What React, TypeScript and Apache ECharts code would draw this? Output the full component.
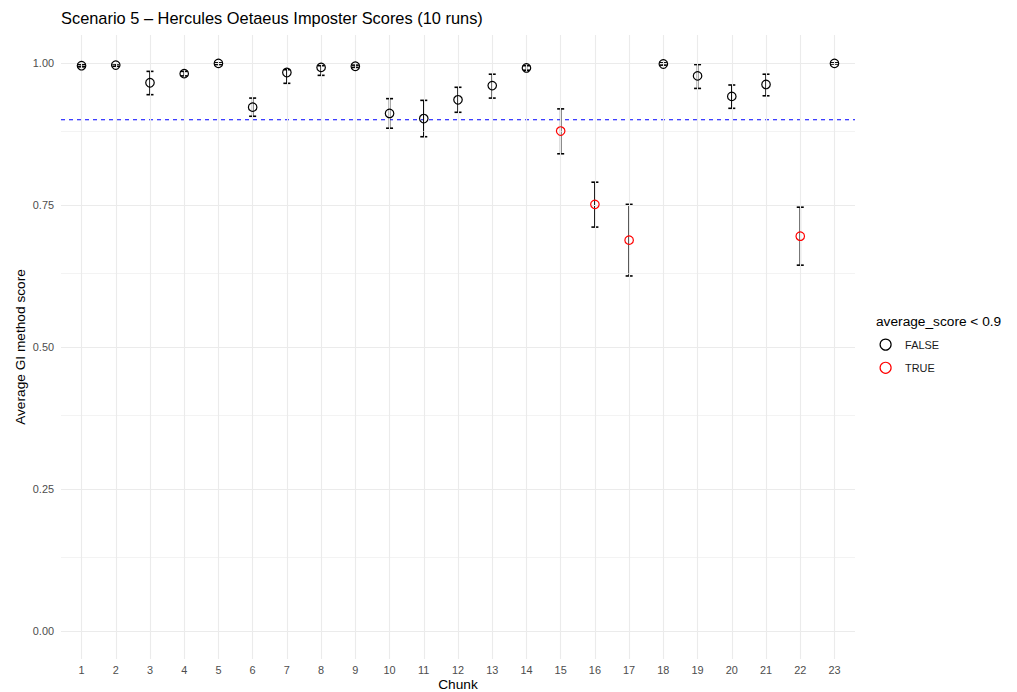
import React, { useEffect, useRef } from "react";
import * as echarts from "echarts";

const chunks = [1, 2, 3, 4, 5, 6, 7, 8, 9, 10, 11, 12, 13, 14, 15, 16, 17, 18, 19, 20, 21, 22, 23];
const avgScore = [0.995, 0.996, 0.965, 0.981, 0.999, 0.922, 0.983, 0.992, 0.994, 0.911, 0.902, 0.935, 0.960, 0.991, 0.880, 0.751, 0.688, 0.998, 0.977, 0.941, 0.962, 0.695, 0.999];
const lowerBound = [0.993, 0.994, 0.944, 0.977, 0.997, 0.906, 0.964, 0.978, 0.992, 0.885, 0.870, 0.913, 0.938, 0.987, 0.840, 0.711, 0.625, 0.996, 0.955, 0.920, 0.942, 0.644, 0.998];
const upperBound = [0.997, 0.998, 0.985, 0.985, 1.000, 0.938, 0.988, 0.995, 0.996, 0.937, 0.934, 0.957, 0.980, 0.995, 0.919, 0.790, 0.751, 1.000, 0.997, 0.961, 0.980, 0.746, 1.000];
const threshold = 0.9;
const xRange = [0.4, 23.6];
const yTicks = [0, 0.25, 0.5, 0.75, 1.0];
const yMinorTicks = [0.125, 0.375, 0.625, 0.875];
const yTickLabels = ["0.00", "0.25", "0.50", "0.75", "1.00"];
const legendTitle = "average_score < 0.9";
const legendLabels = ["FALSE", "TRUE"];

export default function App() {
  const ref = useRef<HTMLDivElement>(null);
  useEffect(() => {
    if (!ref.current) return;
    const chart = echarts.init(ref.current, undefined, { renderer: "svg" });
    const falsePts: number[][] = [];
    const truePts: number[][] = [];
    chunks.forEach((c, i) => {
      if (avgScore[i] < threshold) truePts.push([c, avgScore[i]]);
      else falsePts.push([c, avgScore[i]]);
    });
    const errData = chunks.map((c, i) => [c, lowerBound[i], upperBound[i]]);
    const gridColor = "#ebebeb";
    const font = "Liberation Sans, Arial, sans-serif";
    const colors = ["#000000", "#ff0000"];
    const option: any = {
      animation: false,
      backgroundColor: "#ffffff",
      textStyle: { fontFamily: font },
      title: [
        {
          text: "Scenario 5 \u2013 Hercules Oetaeus Imposter Scores (10 runs)",
          left: 56,
          top: 5,
          textStyle: { fontSize: 16.4, fontWeight: "normal", color: "#000", fontFamily: font },
        },
        {
          text: legendTitle,
          left: 871,
          top: 309,
          textStyle: { fontSize: 13.7, fontWeight: "normal", color: "#000", fontFamily: font },
        },
      ],
      grid: { left: 61, right: 162, top: 35, bottom: 33, containLabel: false, outerBoundsMode: "none" },
      legend: {
        orient: "vertical",
        left: 874.5,
        top: 333.5,
        itemWidth: 11,
        itemHeight: 11,
        itemGap: 11,
        selectedMode: false,
        data: legendLabels.map((n, i) => ({
          name: n,
          icon: "circle",
          itemStyle: { color: "transparent", borderColor: colors[i], borderWidth: 1.2 },
        })),
        textStyle: { fontSize: 10.9, color: "#1a1a1a", fontFamily: font, padding: [0, 0, 0, 9] },
      },
      xAxis: {
        type: "value",
        min: xRange[0],
        max: xRange[1],
        name: "Chunk",
        nameLocation: "middle",
        nameGap: 18,
        nameMoveOverlap: false,
        nameTextStyle: { fontSize: 13.7, color: "#000", fontFamily: font },
        axisLine: { show: false },
        axisTick: { show: false, customValues: chunks },
        splitLine: { show: false },
        axisLabel: {
          customValues: chunks,
          fontSize: 10.9,
          color: "#4d4d4d",
          margin: 5,
          fontFamily: font,
        },
      },
      yAxis: {
        type: "value",
        min: -0.049,
        max: 1.049,
        name: "Average GI method score",
        nameLocation: "middle",
        nameGap: 34,
        nameMoveOverlap: false,
        nameRotate: 90,
        nameTextStyle: { fontSize: 13.7, color: "#000", fontFamily: font },
        axisLine: { show: false },
        axisTick: { show: false, customValues: yTicks },
        splitLine: { show: false },
        axisLabel: {
          customValues: yTicks,
          fontSize: 10.9,
          color: "#4d4d4d",
          margin: 7,
          fontFamily: font,
          formatter: (v: number) => {
            const idx = yTicks.findIndex((t) => Math.abs(t - v) < 1e-6);
            return idx >= 0 ? yTickLabels[idx] : "";
          },
        },
      },
      series: [
        {
          type: "line",
          data: [],
          silent: true,
          markLine: {
            silent: true,
            symbol: "none",
            label: { show: false },
            data: [
              ...yMinorTicks.map((v) => ({ yAxis: v, lineStyle: { color: gridColor, width: 0.6, type: "solid" } })),
              ...yTicks.map((v) => ({ yAxis: v, lineStyle: { color: gridColor, width: 1.1, type: "solid" } })),
              ...chunks.map((v) => ({ xAxis: v, lineStyle: { color: gridColor, width: 1.1, type: "solid" } })),
            ],
          },
        },
        {
          type: "line",
          silent: true,
          z: 3,
          symbol: "none",
          showSymbol: false,
          color: "#0000ff",
          data: [
            [xRange[0], threshold],
            [xRange[1], threshold],
          ],
          lineStyle: { color: "#0000ff", width: 1.1, type: [4, 4], opacity: 1 },
        },
        {
          type: "custom",
          silent: true,
          z: 4,
          data: errData,
          renderItem: (params: any, api: any) => {
            const x = api.value(0);
            const lo = api.coord([x, api.value(1)]);
            const hi = api.coord([x, api.value(2)]);
            const hw = 3.5;
            const style = { stroke: "#000", lineWidth: 1.6, fill: "none" };
            return {
              type: "group",
              children: [
                { type: "line", shape: { x1: lo[0], y1: lo[1], x2: hi[0], y2: hi[1] }, style },
                { type: "line", shape: { x1: lo[0] - hw, y1: lo[1], x2: lo[0] + hw, y2: lo[1] }, style },
                { type: "line", shape: { x1: hi[0] - hw, y1: hi[1], x2: hi[0] + hw, y2: hi[1] }, style },
              ],
            };
          },
        },
        {
          name: "FALSE",
          type: "scatter",
          symbol: "circle",
          symbolSize: 8.5,
          z: 5,
          data: falsePts,
          itemStyle: { color: "transparent", borderColor: colors[0], borderWidth: 1.2, opacity: 1 },
        },
        {
          name: "TRUE",
          type: "scatter",
          symbol: "circle",
          symbolSize: 8.5,
          z: 5,
          data: truePts,
          itemStyle: { color: "transparent", borderColor: colors[1], borderWidth: 1.2, opacity: 1 },
        },
      ],
    };
    chart.setOption(option);
    return () => chart.dispose();
  }, []);
  return <div ref={ref} style={{ position: "fixed", left: 0, top: 0, width: 1017, height: 692 }} />;
}
